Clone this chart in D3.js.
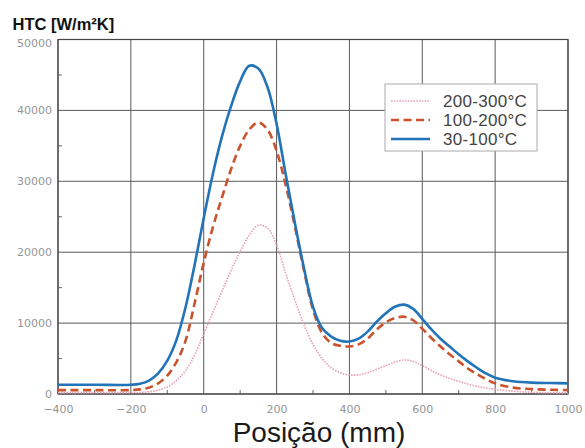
<!DOCTYPE html>
<html>
<head>
<meta charset="utf-8">
<script src="https://cdn.jsdelivr.net/npm/d3@7"></script>
<style>
  html, body { margin: 0; padding: 0; background: #fff; }
  svg { display: block; }
</style>
</head>
<body>
<svg id="chart" width="585" height="448"></svg>
<script>
// ---- data ----
const positions = [-400,-300,-200,-175,-150,-125,-100,-75,-50,-25,0,25,50,75,100,125,150,175,200,225,250,275,300,325,350,375,400,425,450,475,500,525,550,575,600,625,650,675,700,725,750,775,800,850,900,950,1000];
const htc200_300 = [200,200,200,230,320,550,1000,1900,3300,5500,8500,11500,14500,17400,20100,22400,23800,23400,21000,17000,13300,9800,7000,5000,3700,3000,2700,2700,3000,3500,4000,4500,4800,4600,4000,3300,2700,2200,1800,1400,1100,850,650,400,250,180,150];
const htc100_200 = [550,550,550,650,900,1500,2600,4500,7500,12800,18500,23500,27700,31700,35000,37300,38300,37300,34300,29500,23700,17500,11900,8600,7200,6800,6700,7000,7800,9100,10100,10700,10900,10400,9200,7900,6700,5600,4600,3600,2800,2100,1500,900,700,600,550];
const htc30_100 = [1300,1300,1300,1450,1900,2900,4700,7600,12200,18200,24800,31000,36300,40600,44100,46300,45900,43300,38100,31000,24200,17800,12300,9300,8100,7500,7400,7800,8800,10200,11400,12300,12600,12000,10600,9100,7800,6700,5600,4600,3700,2900,2300,1800,1600,1550,1500];
const seriesNames = ["200-300°C", "100-200°C", "30-100°C"];
const xTicks = [-400,-200,0,200,400,600,800,1000];
const yTicks = [0,10000,20000,30000,40000,50000];
const yTitle = "HTC [W/m²K]";
const xTitle = "Posição (mm)";

// ---- layout ----
const svg = d3.select("#chart");
const pL = 58, pR = 568, pT = 39.5, pB = 394;
const x = d3.scaleLinear().domain([-400, 1000]).range([pL, pR]);
const y = d3.scaleLinear().domain([0, 50000]).range([pB, pT]);

const styles = [
  { color: "#e9a2b4", width: 1.6, dash: "1.6,1.2" },
  { color: "#c9532c", width: 2.6, dash: "8,4.5" },
  { color: "#2273b7", width: 2.6, dash: null }
];
const seriesData = [htc200_300, htc100_200, htc30_100];

// grid
const grid = svg.append("g");
grid.selectAll("line.v").data(xTicks).join("line").attr("class", "v")
  .attr("x1", d => x(d)).attr("x2", d => x(d))
  .attr("y1", pT).attr("y2", pB)
  .attr("stroke", "#5a5a5a").attr("stroke-width", 1);
grid.selectAll("line.h").data(yTicks).join("line").attr("class", "h")
  .attr("x1", pL).attr("x2", pR)
  .attr("y1", d => y(d)).attr("y2", d => y(d))
  .attr("stroke", "#5a5a5a").attr("stroke-width", 1);

// minor ticks (inward)
const yMinor = d3.range(5000, 50000, 10000);
svg.append("g").selectAll("line").data(yMinor).join("line")
  .attr("x1", pL).attr("x2", pL + 4)
  .attr("y1", d => y(d)).attr("y2", d => y(d))
  .attr("stroke", "#666");
const xMinor = d3.range(-300, 1000, 200);
svg.append("g").selectAll("line").data(xMinor).join("line")
  .attr("x1", d => x(d)).attr("x2", d => x(d))
  .attr("y1", pB).attr("y2", pB - 4)
  .attr("stroke", "#666");

// frame
svg.append("rect").attr("x", pL).attr("y", pT)
  .attr("width", pR - pL).attr("height", pB - pT)
  .attr("fill", "none").attr("stroke", "#444").attr("stroke-width", 1.2);

// axes labels via d3 axes
const xAxis = d3.axisBottom(x).tickValues(xTicks).tickSize(0).tickPadding(0).tickFormat(d3.format("d"));
const gx = svg.append("g").attr("transform", `translate(0,${pB})`).call(xAxis);
gx.select(".domain").remove();
gx.selectAll("text").attr("y", 19).attr("dy", 0)
  .attr("font-family", "DejaVu Sans").attr("font-size", 11).attr("fill", "#959595");

const yAxis = d3.axisLeft(y).tickValues(yTicks).tickSize(0).tickPadding(6).tickFormat(d3.format("d"));
const gy = svg.append("g").attr("transform", `translate(${pL},0)`).call(yAxis);
gy.select(".domain").remove();
gy.selectAll("text").attr("font-family", "DejaVu Sans").attr("font-size", 11).attr("fill", "#959595")
  .attr("dy", d => d === 50000 ? "0.6em" : "0.32em");

// lines
const line = d3.line().x(d => x(d[0])).y(d => y(d[1])).curve(d3.curveCatmullRom.alpha(0.5));
seriesData.forEach((vals, i) => {
  const pts = positions.map((p, j) => [p, vals[j]]);
  const path = svg.append("path").datum(pts)
    .attr("d", line).attr("fill", "none")
    .attr("stroke", styles[i].color).attr("stroke-width", styles[i].width)
    .attr("stroke-linejoin", "round");
  if (styles[i].dash) path.attr("stroke-dasharray", styles[i].dash);
});

// legend
const lg = svg.append("g");
lg.append("rect").attr("x", 385).attr("y", 84).attr("width", 152).attr("height", 67)
  .attr("fill", "#fff").attr("stroke", "#aaa").attr("stroke-width", 1);
const rowsY = [101, 120, 139];
seriesNames.forEach((name, i) => {
  const l = lg.append("line").attr("x1", 391).attr("x2", 430)
    .attr("y1", rowsY[i]).attr("y2", rowsY[i])
    .attr("stroke", styles[i].color).attr("stroke-width", styles[i].width);
  if (styles[i].dash) l.attr("stroke-dasharray", styles[i].dash);
  lg.append("text").attr("x", 443).attr("y", rowsY[i]).attr("dy", "0.36em")
    .attr("font-family", "Liberation Sans, Arial, sans-serif").attr("font-size", 17)
    .attr("letter-spacing", 0.3)
    .attr("fill", "#444").text(name);
});

// titles
svg.append("text").attr("x", 12.5).attr("y", 30)
  .attr("font-family", "Liberation Sans, Arial, sans-serif").attr("font-size", 16.5)
  .attr("font-weight", "bold").attr("fill", "#111").text(yTitle);
svg.append("text").attr("x", (pL + pR) / 2 + 6).attr("y", 442)
  .attr("text-anchor", "middle")
  .attr("font-family", "Liberation Sans, Arial, sans-serif").attr("font-size", 28)
  .attr("fill", "#1a1a1a").text(xTitle);
</script>
</body>
</html>
